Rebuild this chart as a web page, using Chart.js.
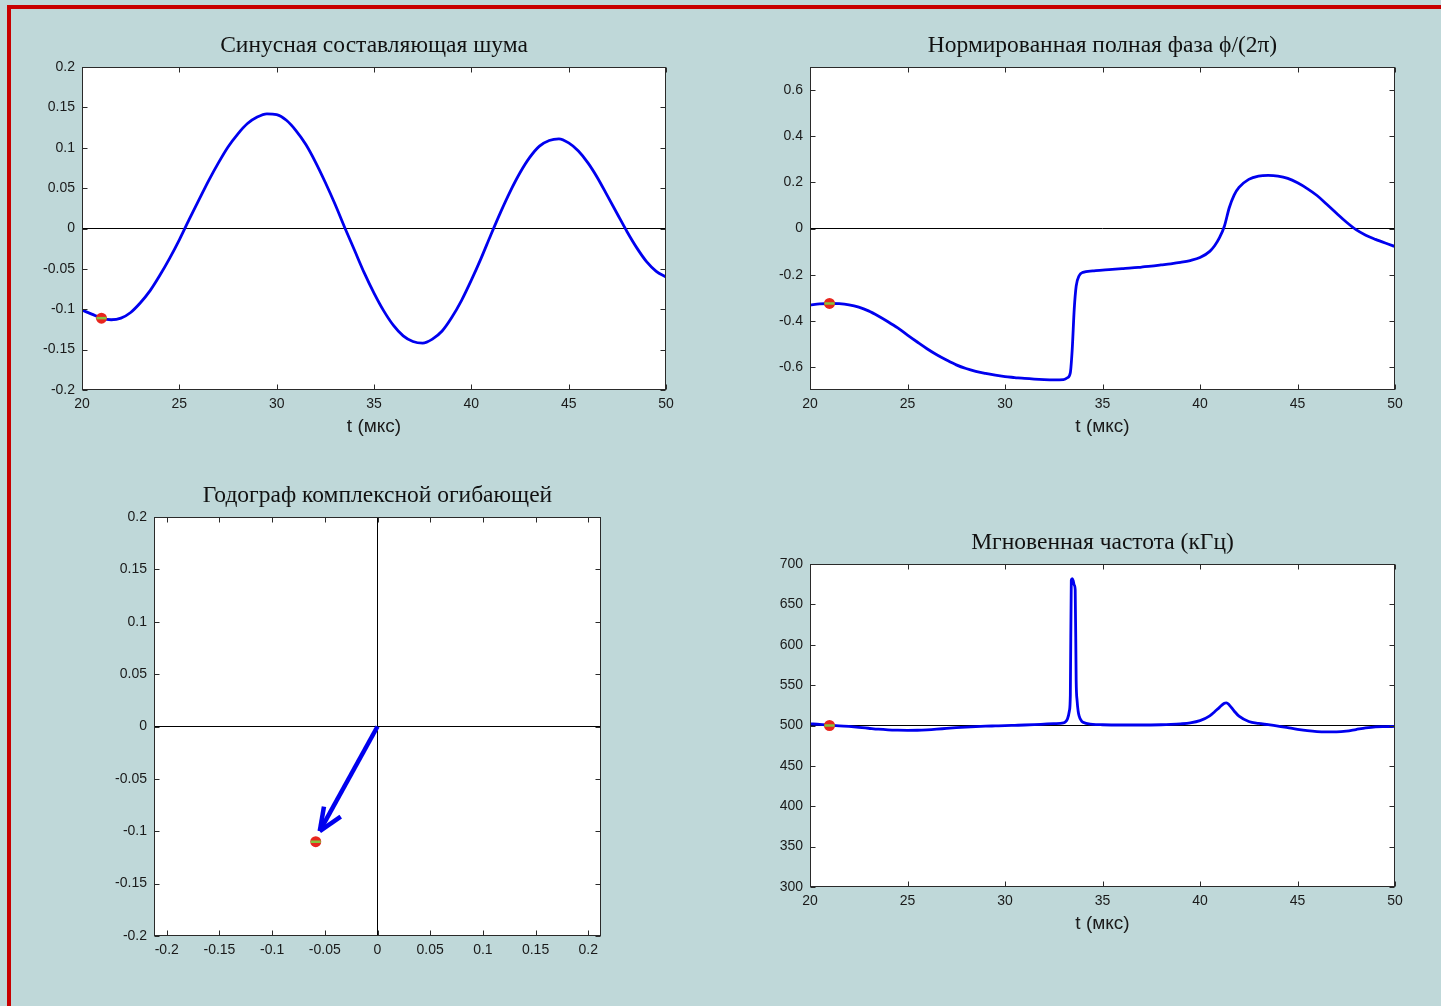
<!DOCTYPE html>
<html><head><meta charset="utf-8">
<script src="https://cdn.jsdelivr.net/npm/chart.js@4.4.1/dist/chart.umd.min.js"></script>
<style>
html,body{margin:0;padding:0;background:rgb(191,216,217);width:1441px;height:1006px;overflow:hidden;position:relative;}
#frame{position:absolute;left:7px;top:5px;right:-10px;bottom:-10px;border-left:4px solid #C80000;border-top:4px solid #C80000;}
canvas{position:absolute;}
</style></head><body>
<div id="frame"></div>
<canvas id="c1"></canvas><canvas id="c2"></canvas><canvas id="c3"></canvas><canvas id="c4"></canvas>
<script>
// ---------- DATA ----------
const sineT = [20,20.5,21,21.5,22,22.5,23,23.5,24,24.5,25,25.5,26,26.5,27,27.5,28,28.5,29,29.5,30,30.5,31,31.5,32,32.5,33,33.5,34,34.5,35,35.5,36,36.5,37,37.5,38,38.5,39,39.5,40,40.5,41,41.5,42,42.5,43,43.5,44,44.5,45,45.5,46,46.5,47,47.5,48,48.5,49,49.5,50];
const sineV = [-0.101,-0.106,-0.111,-0.113,-0.111,-0.104,-0.092,-0.077,-0.058,-0.037,
  -0.014,0.011,0.035,0.059,0.081,0.101,0.117,0.130,0.138,0.142,
  0.141,0.134,0.121,0.104,0.082,0.057,0.030,0.001,-0.027,-0.055,
  -0.080,-0.102,-0.120,-0.133,-0.140,-0.142,-0.137,-0.127,-0.110,-0.089,
  -0.064,-0.037,-0.008,0.020,0.046,0.069,0.088,0.102,0.109,0.111,
  0.106,0.096,0.081,0.062,0.040,0.018,-0.004,-0.024,-0.041,-0.053,
  -0.060];

const phaseT = [20,20.5,21,21.5,22,22.5,23,23.5,24,24.5,25,25.5,26,26.5,27,27.5,28,28.5,29,29.5,30,30.5,31,31.5,32,32.5,33,
  33.2,33.35,33.45,33.55,33.65,33.8,
  34,34.5,35,35.5,36,36.5,37,37.5,38,38.5,39,39.5,40,40.5,
  40.75,41,41.25,41.5,41.75,42,
  42.5,43,43.5,44,44.5,45,45.5,46,46.5,47,47.5,48,48.5,49,49.5,50];
const phaseV = [-0.332,-0.327,-0.325,-0.326,-0.331,-0.341,-0.357,-0.379,-0.404,-0.431,
  -0.462,-0.492,-0.521,-0.547,-0.570,-0.591,-0.607,-0.619,-0.628,-0.636,
  -0.642,-0.646,-0.650,-0.653,-0.655,-0.656,-0.655,
  -0.647,-0.625,-0.52,-0.35,-0.25,-0.205,
  -0.19,-0.184,-0.180,-0.177,-0.174,-0.171,-0.167,-0.163,-0.158,-0.153,-0.147,-0.139,-0.126,-0.099,
  -0.075,-0.04,0.01,0.09,0.145,0.178,
  0.213,0.227,0.230,0.227,0.217,0.198,0.173,0.143,0.105,0.066,0.028,-0.005,-0.029,-0.047,-0.063,-0.078];

const freqT = [20,20.5,21,21.5,22,22.5,23,23.5,24,24.5,25,25.5,26,26.5,27,27.5,28,28.5,29,29.5,30,30.5,31,31.5,32,32.5,33,
  33.1,33.2,33.3,33.35,33.4,33.45,33.5,33.55,33.6,33.65,33.7,33.75,33.8,33.9,
  34,34.5,35,36,37,38,38.5,39,39.5,40,40.5,
  40.75,41,41.25,41.35,41.5,41.75,42,
  42.5,43,43.5,44,44.5,45,45.5,46,46.5,47,47.5,48,48.5,49,49.5,50];
const freqV = [502,501.5,500.5,499.6,498.8,497.8,496.6,495.4,494.6,494.2,
  494.0,494.1,494.6,495.4,496.4,497.3,498.1,498.7,499.2,499.5,
  499.8,500.2,500.6,501.1,501.7,502.3,503.2,
  504.5,508,518,537,680,682,679,674,668,555,530,518,512,506.5,
  504,501.5,500.9,500.6,500.6,500.9,501.3,502,503.2,506,512,
  517,522.5,527.5,528,525.5,518,511.5,
  505,502.5,501,499.3,497.3,495.3,493.6,492.5,492.2,492.2,493,495,497,498.4,498.7,498.8];

// hodograph arrow (cos component, sin component)
const arrowShaftX = [0, -0.0548];
const arrowShaftY = [0, -0.0998];
const arrowBarb1X = [-0.0508, -0.0548];
const arrowBarb1Y = [-0.0766, -0.0998];
const arrowBarb2X = [-0.0349, -0.0548];
const arrowBarb2Y = [-0.0861, -0.0998];
const hodoPoint = {x: -0.0586, y: -0.110};

// current-time markers
const markT = 21;
const markSine = -0.111;
const markPhase = -0.325;
const markFreq = 500;

// ticks
const timeTicks = [20,25,30,35,40,45,50];
const sineTicks = [-0.2,-0.15,-0.1,-0.05,0,0.05,0.1,0.15,0.2];
const phaseTicks = [-0.6,-0.4,-0.2,0,0.2,0.4,0.6];
const hodoTicks = [-0.2,-0.15,-0.1,-0.05,0,0.05,0.1,0.15,0.2];
const freqTicks = [300,350,400,450,500,550,600,650,700];

const titles = ['Синусная составляющая шума','Нормированная полная фаза ϕ/(2π)','Годограф комплексной огибающей','Мгновенная частота (кГц)'];
const timeLabel = 't (мкс)';

// ---------- STYLE / LAYOUT ----------
const SANS = "'Liberation Sans', Arial, sans-serif";
const SERIF = "'Liberation Serif', 'Times New Roman', serif";
const BLUE = '#0000EE';
const TXT = '#1a1a1a';
const TITLE_SIZE = 23.5, TICK_SIZE = 14, AX_SIZE = 19;
const YW = 70;

const pairs = (xs, ys) => xs.map((v, i) => ({x: v, y: ys[i]}));

const boxPlugin = {
  id: 'boxTicks',
  beforeDraw(chart) {
    const {ctx, chartArea: a} = chart;
    ctx.save(); ctx.fillStyle = '#fff';
    ctx.fillRect(a.left, a.top, a.right - a.left, a.bottom - a.top);
    ctx.restore();
  },
  afterDraw(chart) {
    const {ctx, chartArea: a, scales: {x, y}} = chart;
    ctx.save(); ctx.strokeStyle = '#2a2a2a'; ctx.lineWidth = 1;
    const L = Math.round(a.left) + 0.5, R = Math.round(a.right) - 0.5, T = Math.round(a.top) + 0.5, B = Math.round(a.bottom) - 0.5;
    ctx.strokeRect(L, T, R - L, B - T);
    ctx.beginPath();
    x.ticks.forEach(t => { const p = Math.round(x.getPixelForValue(t.value)) + 0.5; ctx.moveTo(p, B); ctx.lineTo(p, B - 5); ctx.moveTo(p, T); ctx.lineTo(p, T + 5); });
    y.ticks.forEach(t => { const p = Math.round(y.getPixelForValue(t.value)) + 0.5; ctx.moveTo(L, p); ctx.lineTo(L + 5, p); ctx.moveTo(R, p); ctx.lineTo(R - 5, p); });
    ctx.stroke(); ctx.restore();
  }
};

function place(id, area, titleCY, xAxisH) {
  const cv = document.getElementById(id);
  const left = area.L - YW - 10, top = area.T - 75;
  const width = area.R - left + YW + 10, height = area.B - top + xAxisH + 20;
  cv.width = width; cv.height = height;
  cv.style.left = left + 'px'; cv.style.top = top + 'px';
  const lh = TITLE_SIZE * 1.2;
  return {
    padding: {left: 10, right: width - (area.R - left) - YW, top: titleCY - top - lh / 2, bottom: height - (area.B - top) - xAxisH},
    titlePadBottom: area.T - titleCY - lh / 2
  };
}

function axis(min, max, ticks, isX, fitSize, label) {
  const o = {
    type: 'linear', min, max,
    afterBuildTicks: s => { s.ticks = ticks.map(v => ({value: v})); },
    ticks: {font: {family: SANS, size: TICK_SIZE}, color: TXT, padding: isX ? 6 : 7, autoSkip: false, maxRotation: 0, callback: v => String(v)},
    grid: {display: false, drawTicks: false, tickLength: 0},
    border: {display: false},
    afterFit: s => { if (isX) s.height = fitSize; else s.width = fitSize; }
  };
  if (label) o.title = {display: true, text: label, font: {family: SANS, size: AX_SIZE}, color: TXT, padding: 0};
  return o;
}
// invisible right-hand spacer so the title is centred over the plot box
const spacer = {position: 'right', display: true, ticks: {display: false}, grid: {display: false, drawTicks: false}, border: {display: false}, afterFit: s => { s.width = YW; }};

function markers(x, y) {
  return [
    {data: [{x, y}], showLine: false, pointStyle: 'line', pointRadius: 5, pointBorderColor: '#86c43c', pointBorderWidth: 2.5, pointHoverRadius: 0},
    {data: [{x, y}], showLine: false, pointStyle: 'circle', pointRadius: 5.5, pointBackgroundColor: '#e8261e', pointBorderColor: '#e8261e', pointBorderWidth: 0}
  ];
}

function curve(data, w) {
  return {data, borderColor: BLUE, borderWidth: w || 2.8, pointRadius: 0, cubicInterpolationMode: 'monotone', fill: false};
}
function blackLine(data) {
  return {data, borderColor: '#000', borderWidth: 1, pointRadius: 0, tension: 0, fill: false};
}

function makeChart(id, area, titleCY, xAxisH, title, datasets, xs, ys) {
  const L = place(id, area, titleCY, xAxisH);
  return new Chart(document.getElementById(id), {
    type: 'line',
    data: {datasets},
    options: {
      responsive: false, animation: false, devicePixelRatio: 1,
      layout: {padding: L.padding},
      plugins: {
        legend: {display: false}, tooltip: {enabled: false},
        title: {display: true, text: title, font: {family: SERIF, size: TITLE_SIZE, weight: 'normal', lineHeight: 1.2}, color: '#111', padding: {top: 0, bottom: L.titlePadBottom}}
      },
      scales: {x: xs, y: ys, yR: spacer}
    },
    plugins: [boxPlugin]
  });
}

// 1. sine component
makeChart('c1', {L: 82, R: 666, T: 67, B: 390}, 45.5, 48, titles[0],
  [...markers(markT, markSine), curve(pairs(sineT, sineV)), blackLine([{x: 20, y: 0}, {x: 50, y: 0}])],
  axis(20, 50, timeTicks, true, 48, timeLabel), axis(-0.2, 0.2, sineTicks, false, YW));

// 2. phase
makeChart('c2', {L: 810, R: 1395, T: 67, B: 390}, 45.5, 48, titles[1],
  [...markers(markT, markPhase), curve(pairs(phaseT, phaseV)), blackLine([{x: 20, y: 0}, {x: 50, y: 0}])],
  axis(20, 50, timeTicks, true, 48, timeLabel), axis(-0.7, 0.7, phaseTicks, false, YW));

// 3. hodograph
const hx = 0.2121;
makeChart('c3', {L: 154, R: 601, T: 517, B: 936}, 496, 30, titles[2],
  [...markers(hodoPoint.x, hodoPoint.y),
   {data: pairs(arrowShaftX, arrowShaftY), borderColor: BLUE, borderWidth: 4.5, pointRadius: 0, tension: 0},
   {data: pairs(arrowBarb1X, arrowBarb1Y), borderColor: BLUE, borderWidth: 4.5, pointRadius: 0, tension: 0},
   {data: pairs(arrowBarb2X, arrowBarb2Y), borderColor: BLUE, borderWidth: 4.5, pointRadius: 0, tension: 0},
   blackLine([{x: -hx, y: 0}, {x: hx, y: 0}]), blackLine([{x: 0, y: -0.2}, {x: 0, y: 0.2}])],
  axis(-hx, hx, hodoTicks, true, 30), axis(-0.2, 0.2, hodoTicks, false, YW));

// 4. instantaneous frequency
makeChart('c4', {L: 810, R: 1395, T: 564, B: 887}, 543, 48, titles[3],
  [...markers(markT, markFreq), curve(pairs(freqT, freqV)), blackLine([{x: 20, y: 500}, {x: 50, y: 500}])],
  axis(20, 50, timeTicks, true, 48, timeLabel), axis(300, 700, freqTicks, false, YW));
</script>
</body></html>
